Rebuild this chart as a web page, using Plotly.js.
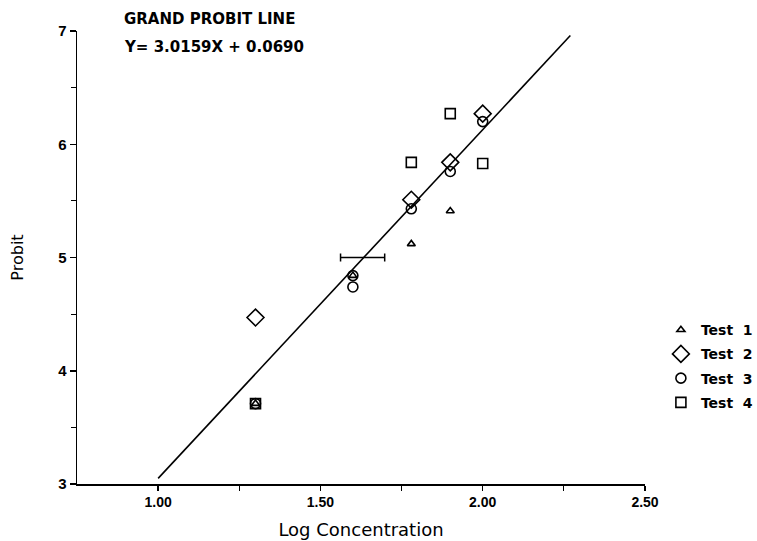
<!DOCTYPE html>
<html>
<head>
<meta charset="utf-8">
<script src="https://cdn.plot.ly/plotly-3.0.1.min.js"></script>
<style>html,body{margin:0;padding:0;background:#fff;}#chart{width:757px;height:541px;}</style>
</head>
<body>
<div id="chart"></div>
<script>
// Data
var test1X = [1.30, 1.60, 1.78, 1.90];
var test1Y = [3.71, 4.84, 5.12, 5.41];
var test2X = [1.30, 1.78, 1.90, 2.00];
var test2Y = [4.47, 5.51, 5.84, 6.27];
var test3X = [1.30, 1.60, 1.60, 1.78, 1.90, 2.00];
var test3Y = [3.71, 4.84, 4.74, 5.43, 5.76, 6.20];
var test4X = [1.30, 1.78, 1.90, 2.00];
var test4Y = [3.71, 5.84, 6.27, 5.83];
var lineX = [1.00, 2.27];
var lineY = [3.05, 6.96];
var ldX = [1.63];
var ldY = [5.00];
var ldLow = [0.068];
var ldHigh = [0.068];
var xTickVals = [1.0, 1.5, 2.0, 2.5];
var xTickText = ['1.00', '1.50', '2.00', '2.50'];
var yTickVals = [3, 4, 5, 6, 7];
var titleLines = ['GRAND PROBIT LINE', 'Y= 3.0159X + 0.0690'];

var FONT = 'Liberation Sans, Arial, sans-serif';
var WIDE = 'DejaVu Sans, sans-serif';
var mk = function(sym, size){ return {symbol: sym, size: size, color: '#000', line: {color: '#000', width: 1.6}}; };

var traces = [
  {x: lineX, y: lineY, mode: 'lines', line: {color: '#000', width: 1.6}, showlegend: false, hoverinfo: 'skip'},
  {x: ldX, y: ldY, mode: 'markers', marker: {size: 1, color: 'rgba(0,0,0,0)'}, showlegend: false,
   error_x: {type: 'data', symmetric: false, array: ldHigh, arrayminus: ldLow, width: 4, thickness: 1.5, color: '#000'}},
  {x: test1X, y: test1Y, name: 'Test\u00a0\u00a01', legendgroup: 'g1', mode: 'markers', marker: mk('triangle-up-open', 7)},
  {x: test2X, y: test2Y, name: 'Test\u00a0\u00a02', legendgroup: 'g2', mode: 'markers', marker: mk('diamond-open', 13)},
  {x: test3X, y: test3Y, name: 'Test\u00a0\u00a03', legendgroup: 'g3', mode: 'markers', marker: mk('circle-open', 10)},
  {x: test4X, y: test4Y, name: 'Test\u00a0\u00a04', legendgroup: 'g4', mode: 'markers', marker: mk('square-open', 10)}
];

var layout = {
  width: 757, height: 541,
  margin: {l: 77, r: 112, t: 31, b: 57, autoexpand: false},
  paper_bgcolor: '#fff', plot_bgcolor: '#fff',
  font: {family: FONT, color: '#000', size: 14},
  showlegend: true,
  legend: {x: 1.028, y: 0.375, xanchor: 'left', yanchor: 'top', bgcolor: 'rgba(0,0,0,0)',
           font: {family: WIDE, size: 14, color: '#000', weight: 'bold'}, itemwidth: 30, tracegroupgap: 3},
  xaxis: {range: [0.75, 2.5], showgrid: false, zeroline: false, showline: true, linecolor: '#000', linewidth: 1.5,
          tickmode: 'array', tickvals: xTickVals, ticktext: xTickText, ticks: 'outside', ticklen: 5, tickwidth: 1.5, tickcolor: '#000',
          minor: {tickmode: 'array', tickvals: [1.25, 1.75, 2.25], ticks: 'outside', ticklen: 5, tickwidth: 1.2, tickcolor: '#000'},
          tickfont: {family: FONT, size: 14, color: '#000', weight: 'bold'},
          title: {text: 'Log Concentration', font: {family: WIDE, size: 18, color: '#000'}, standoff: 14}},
  yaxis: {range: [3, 7], showgrid: false, zeroline: false, showline: true, linecolor: '#000', linewidth: 1.5,
          tickmode: 'array', tickvals: yTickVals, ticks: 'outside', ticklen: 6, tickwidth: 1.5, tickcolor: '#000',
          minor: {tickmode: 'array', tickvals: [3.5, 4.5, 5.5, 6.5], ticks: 'outside', ticklen: 5, tickwidth: 1.2, tickcolor: '#000'},
          tickfont: {family: FONT, size: 15, color: '#000', weight: 'bold'},
          title: {text: 'Probit', font: {family: WIDE, size: 16, color: '#000'}, standoff: 30}},
  annotations: [
    {xref: 'paper', yref: 'paper', x: 0.079, y: 1.026, xanchor: 'left', yanchor: 'middle', showarrow: false,
     text: titleLines[0], font: {family: WIDE, size: 15, color: '#000', weight: 'bold'}},
    {xref: 'paper', yref: 'paper', x: 0.079, y: 0.965, xanchor: 'left', yanchor: 'middle', showarrow: false,
     text: titleLines[1], font: {family: WIDE, size: 15, color: '#000', weight: 'bold'}}
  ]
};

Plotly.newPlot('chart', traces, layout, {displayModeBar: false, staticPlot: true});
</script>
</body>
</html>
